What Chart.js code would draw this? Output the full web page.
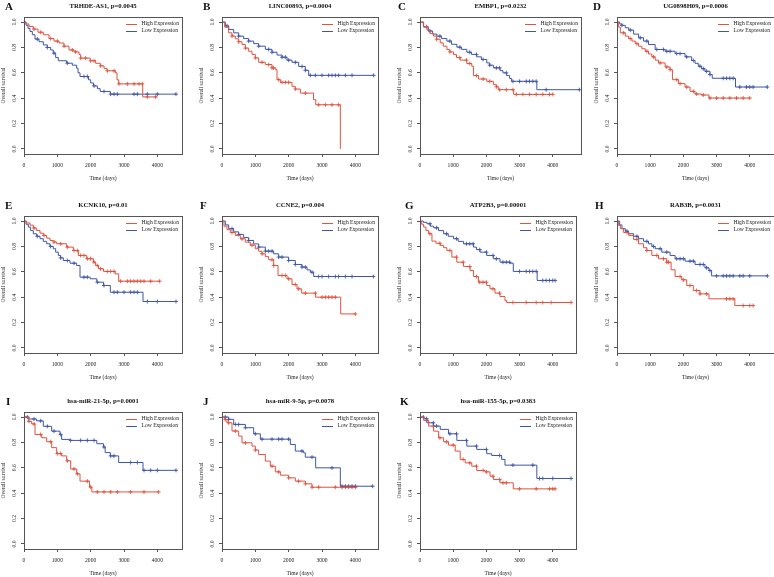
<!DOCTYPE html>
<html>
<head>
<meta charset="utf-8">
<script src="https://cdn.jsdelivr.net/npm/chart.js@4.4.0/dist/chart.umd.min.js"></script>
<style>
  body { margin: 0; background: #fff; width: 774px; height: 577px; position: relative; overflow: hidden; }
  canvas { position: absolute; }
</style>
</head>
<body>
<script>
"use strict";

// panel labels and titles
const panelLetters = ["A", "B", "C", "D", "E", "F", "G", "H", "I", "J", "K"];
const panelTitles = [
  "TRHDE-AS1, p=0.0045", "LINC00893, p=0.0004", "EMBP1, p=0.0232", "UG0898H09, p=0.0006",
  "KCNK10, p=0.01", "CCNE2, p=0.004", "ATP2B3, p=0.00001", "RAB3B, p=0.0031",
  "hsa-miR-21-5p, p=0.0001", "hsa-miR-9-5p, p=0.0078", "hsa-miR-155-5p, p=0.0383"
];
const seriesNames = ["High Expression", "Low Expression"];
const xTicks = [0, 1000, 2000, 3000, 4000];
const yTicks = [0, 0.2, 0.4, 0.6, 0.8, 1.0];
const xMaxes = [4740, 4680, 4850, 4730, 4740, 4680, 4700, 4730, 4740, 4680, 4700];

// Kaplan-Meier steps [time, survival]
const aHigh = [[0,1],[60,0.985],[150,0.965],[280,0.945],[420,0.92],[580,0.9],[750,0.87],[900,0.85],[1050,0.835],[1200,0.81],[1350,0.78],[1500,0.765],[1650,0.745],[1700,0.716],[1985,0.695],[2150,0.675],[2290,0.655],[2400,0.635],[2490,0.616],[2740,0.6],[2790,0.545],[2840,0.513],[3560,0.41],[3990,0.41]];
const aLow = [[0,1],[60,0.975],[120,0.95],[180,0.926],[250,0.9],[330,0.866],[450,0.845],[580,0.82],[700,0.8],[800,0.78],[880,0.755],[950,0.72],[1030,0.695],[1280,0.676],[1450,0.66],[1580,0.637],[1620,0.6],[1680,0.571],[1935,0.545],[2000,0.52],[2085,0.497],[2200,0.475],[2285,0.453],[2590,0.432],[4560,0.432]];
const bHigh = [[0,1],[80,0.96],[200,0.915],[300,0.89],[400,0.868],[500,0.845],[600,0.823],[700,0.795],[800,0.77],[900,0.745],[1000,0.718],[1100,0.683],[1300,0.665],[1500,0.639],[1600,0.625],[1650,0.546],[1750,0.525],[2100,0.493],[2200,0.472],[2350,0.44],[2745,0.388],[2813,0.348],[3550,0]];
const bLow = [[0,1],[100,0.97],[200,0.942],[350,0.915],[500,0.889],[650,0.87],[800,0.85],[950,0.83],[1100,0.81],[1300,0.785],[1500,0.762],[1650,0.74],[1800,0.723],[1950,0.7],[2100,0.683],[2300,0.65],[2500,0.62],[2600,0.58],[4560,0.58]];
const cHigh = [[0,1],[100,0.965],[210,0.937],[300,0.91],[410,0.889],[500,0.865],[610,0.836],[700,0.81],[810,0.784],[900,0.765],[1010,0.744],[1100,0.72],[1210,0.7],[1410,0.673],[1560,0.652],[1610,0.578],[1760,0.551],[2010,0.533],[2210,0.507],[2300,0.49],[2360,0.467],[2820,0.43],[4000,0.43]];
const cLow = [[0,1],[110,0.96],[250,0.93],[380,0.905],[510,0.889],[650,0.87],[810,0.85],[950,0.825],[1110,0.802],[1250,0.785],[1410,0.762],[1550,0.745],[1710,0.726],[1850,0.705],[2010,0.678],[2100,0.66],[2210,0.639],[2410,0.617],[2500,0.6],[2610,0.578],[2700,0.555],[2760,0.533],[3520,0.467],[4800,0.467]];
const dHigh = [[0,1],[50,0.96],[100,0.915],[250,0.889],[350,0.87],[450,0.85],[550,0.83],[650,0.81],[750,0.79],[850,0.77],[950,0.748],[1050,0.726],[1150,0.7],[1250,0.678],[1450,0.646],[1600,0.625],[1670,0.546],[1850,0.515],[2050,0.488],[2200,0.454],[2350,0.433],[2550,0.425],[2770,0.401],[4000,0.401]];
const dLow = [[0,1],[80,0.985],[150,0.974],[250,0.955],[350,0.937],[500,0.905],[650,0.876],[800,0.85],[950,0.823],[1150,0.784],[1450,0.77],[1750,0.752],[2050,0.726],[2250,0.697],[2350,0.675],[2450,0.652],[2550,0.632],[2650,0.612],[2800,0.586],[2870,0.557],[3570,0.488],[4530,0.488]];
const eHigh = [[0,1],[80,0.985],[180,0.968],[280,0.945],[380,0.926],[480,0.905],[580,0.887],[680,0.865],[780,0.847],[880,0.835],[980,0.821],[1280,0.795],[1480,0.768],[1630,0.729],[1880,0.703],[2085,0.676],[2150,0.65],[2235,0.624],[2385,0.603],[2735,0.584],[2840,0.526],[4070,0.526]];
const eLow = [[0,1],[60,0.975],[130,0.953],[200,0.925],[280,0.9],[380,0.88],[480,0.861],[580,0.84],[680,0.821],[780,0.8],[880,0.782],[950,0.755],[1030,0.729],[1100,0.71],[1180,0.689],[1380,0.668],[1580,0.65],[1680,0.558],[1985,0.545],[2185,0.518],[2385,0.492],[2590,0.439],[3570,0.366],[4560,0.366]];
const fHigh = [[0,1],[60,0.96],[150,0.932],[250,0.91],[400,0.887],[550,0.86],[700,0.834],[850,0.81],[1000,0.782],[1100,0.762],[1200,0.742],[1300,0.72],[1400,0.695],[1550,0.65],[1680,0.571],[1950,0.545],[2100,0.5],[2250,0.466],[2390,0.432],[2810,0.4],[3560,0.268],[4000,0.268]];
const fLow = [[0,1],[100,0.97],[200,0.94],[350,0.915],[500,0.895],[650,0.87],[800,0.847],[950,0.82],[1100,0.795],[1300,0.763],[1550,0.742],[1700,0.716],[2000,0.689],[2200,0.658],[2400,0.637],[2550,0.615],[2650,0.597],[2750,0.563],[4540,0.563]];
const gHigh = [[0,1],[50,0.975],[110,0.953],[180,0.925],[260,0.9],[360,0.842],[480,0.825],[610,0.808],[710,0.79],[810,0.768],[960,0.716],[1110,0.676],[1310,0.642],[1510,0.61],[1610,0.563],[1760,0.518],[2010,0.492],[2110,0.466],[2260,0.432],[2410,0.405],[2560,0.374],[2610,0.358],[4550,0.358]];
const gLow = [[0,1],[100,0.99],[210,0.979],[310,0.96],[410,0.947],[560,0.925],[710,0.9],[850,0.88],[1010,0.861],[1150,0.84],[1310,0.821],[1610,0.795],[1700,0.775],[1810,0.755],[2010,0.729],[2210,0.703],[2410,0.676],[2710,0.668],[2810,0.603],[3530,0.532],[4070,0.532]];
const hHigh = [[0,1],[50,0.965],[100,0.94],[200,0.91],[350,0.887],[500,0.855],[650,0.821],[800,0.79],[900,0.768],[1050,0.729],[1250,0.703],[1500,0.676],[1630,0.616],[1750,0.563],[1950,0.537],[2100,0.492],[2300,0.453],[2500,0.426],[2770,0.387],[3550,0.334],[4100,0.334]];
const hLow = [[0,1],[80,0.97],[150,0.94],[250,0.92],[350,0.9],[500,0.88],[650,0.861],[800,0.84],[950,0.821],[1050,0.8],[1150,0.782],[1350,0.755],[1600,0.729],[1750,0.703],[2050,0.684],[2350,0.658],[2650,0.632],[2770,0.61],[2850,0.568],[4530,0.568]];
const iHigh = [[0,1],[130,0.966],[230,0.946],[330,0.863],[530,0.837],[680,0.806],[830,0.759],[980,0.712],[1130,0.694],[1280,0.655],[1400,0.591],[1580,0.552],[1680,0.495],[1965,0.448],[2035,0.41],[4040,0.41]];
const iLow = [[0,1],[150,0.985],[380,0.97],[580,0.927],[830,0.889],[1080,0.863],[1130,0.824],[1380,0.816],[2185,0.79],[2385,0.764],[2435,0.72],[2590,0.694],[2840,0.642],[3570,0.58],[4560,0.58]];
const jHigh = [[0,1],[80,0.98],[150,0.955],[300,0.89],[500,0.85],[600,0.797],[900,0.771],[1000,0.74],[1100,0.705],[1300,0.653],[1450,0.613],[1600,0.568],[1750,0.542],[2000,0.521],[2200,0.495],[2500,0.474],[2700,0.447],[4040,0.447]];
const jLow = [[0,1],[200,0.982],[350,0.942],[700,0.916],[950,0.868],[1150,0.826],[2050,0.784],[2200,0.732],[2450,0.718],[2500,0.684],[2810,0.6],[3550,0.455],[4520,0.455]];
const kHigh = [[0,1],[110,0.974],[260,0.929],[410,0.889],[560,0.837],[710,0.805],[860,0.779],[1060,0.732],[1210,0.666],[1360,0.639],[1560,0.613],[1710,0.579],[1960,0.568],[2110,0.534],[2210,0.508],[2410,0.482],[2810,0.434],[4070,0.434]];
const kLow = [[0,1],[110,0.987],[210,0.955],[410,0.929],[610,0.903],[860,0.868],[1110,0.816],[1410,0.771],[1710,0.745],[2010,0.711],[2160,0.697],[2460,0.666],[2560,0.621],[3520,0.516],[4550,0.516]];

// censoring times (days)
const aHighCens = [300,500,800,1000,1200,1450,1550,1700,1850,2000,2100,2300,2500,2700,2850,3100,3300,3450,3550,3700,3950];
const aLowCens = [400,700,900,1300,1800,1900,2100,2400,2600,2700,2800,3300,3400,3700,4000,4560];
const bHighCens = [300,500,700,1000,1200,1400,1500,1550,1700,1800,1900,2000,2200,2500,2900,3100,3300,3500];
const bLowCens = [150,500,800,1100,1400,1500,1800,1900,2000,2200,2400,2500,2650,2800,3000,3200,3300,3400,3500,3700,3900,4550];
const cHighCens = [200,500,900,1200,1400,1500,1700,1900,2100,2300,2400,2600,2800,2900,3100,3300,3500,3700,3900,4000];
const cLowCens = [300,600,900,1200,1500,1700,1900,2100,2300,2400,2600,2800,3000,3200,3300,3400,3500,3800,4800];
const dHighCens = [200,400,600,900,1100,1300,1500,1600,1800,1900,2100,2300,2400,2600,2800,3000,3200,3400,3600,3800,4000];
const dLowCens = [150,400,700,900,1200,1400,1500,1600,1800,1900,2100,2300,2500,2600,2700,2800,3200,3300,3400,3500,3700,3900,4000,4100,4530];
const eHighCens = [300,600,900,1100,1300,1500,1600,1700,1800,1900,2000,2100,2200,2300,2500,2600,2700,2900,3100,3200,3300,3400,3500,3600,3800,4070];
const eLowCens = [400,800,1100,1300,1500,1800,1900,2200,2400,2700,2800,3000,3200,3300,3400,3700,4000,4560];
const fHighCens = [300,600,900,1200,1500,1550,1800,1900,2000,2200,2300,2500,2800,3000,3100,3200,3300,3400,4000];
const fLowCens = [300,500,800,1100,1300,1400,1500,1700,1800,2000,2200,2400,2500,2700,2900,3000,3200,3400,3500,3700,3900,4540];
const gHighCens = [300,600,900,1100,1300,1500,1700,1800,1900,2000,2200,2400,2800,3200,3500,3700,3950,4550];
const gLowCens = [300,500,800,1100,1400,1500,1600,1800,2000,2200,2300,2500,2600,2700,3000,3200,3300,3400,3500,3700,3800,3900,4000,4070];
const hHighCens = [300,600,900,1200,1400,1500,1550,1900,2000,2200,2400,2500,2700,3300,3400,3500,3800,4000,4100];
const hLowCens = [300,600,900,1100,1300,1500,1800,1900,2000,2200,2300,2500,2600,2700,2800,3000,3200,3300,3400,3500,3700,3800,4000,4530];
const iHighCens = [150,300,500,800,1000,1100,1300,1500,1600,1900,2000,2200,2400,2600,2800,3200,3600,4040];
const iLowCens = [100,300,500,700,900,1100,1400,1700,1900,2100,2400,2600,2700,3200,3400,3600,3800,4000,4560];
const jHighCens = [100,200,400,700,1000,1500,1700,2000,2300,2500,2700,2900,3400,3600,3700,3800,3900,4000];
const jLowCens = [100,200,400,500,700,1000,1200,1500,1700,1800,2000,2400,2700,3300,3600,3700,3800,3900,4000,4520];
const kHighCens = [200,400,600,800,1000,1300,1500,1700,1900,2000,2200,2400,2500,2600,3000,3500,3900,4000,4070];
const kLowCens = [100,200,400,500,900,1100,1400,1700,2000,2400,2800,3400,3600,3700,4000,4550];

const panels = [
  [aHigh, aLow, aHighCens, aLowCens], [bHigh, bLow, bHighCens, bLowCens],
  [cHigh, cLow, cHighCens, cLowCens], [dHigh, dLow, dHighCens, dLowCens],
  [eHigh, eLow, eHighCens, eLowCens], [fHigh, fLow, fHighCens, fLowCens],
  [gHigh, gLow, gHighCens, gLowCens], [hHigh, hLow, hHighCens, hLowCens],
  [iHigh, iLow, iHighCens, iLowCens], [jHigh, jLow, jHighCens, jLowCens],
  [kHigh, kLow, kHighCens, kLowCens]
];

// layout
const colLeft = [24, 222, 420, 617];
const rowTop = [17, 216, 412];
const letterDx = [-19, -19, -22, -24, -19, -22, -15, -22, -18, -19, -20];
const pxPer1000 = 33.25;
const boxH = 137;
const padL = 26, padR = 14, padT = 18, padB = 32;
const red = "#E0533E";
const blue = "#3E56A6";
const serif = '"Liberation Serif", "Times New Roman", serif';

// survival at time t on a step curve
function survAt(curve, t) {
  let s = 1;
  for (const [time, val] of curve) {
    if (time <= t) s = val;
  }
  return s;
}

const framePlugin = {
  id: "frame",
  afterDraw(chart, args, opts) {
    const { ctx, chartArea: a } = chart;
    ctx.save();
    ctx.strokeStyle = "#555";
    ctx.lineWidth = 1;
    ctx.strokeRect(Math.round(a.left) + 0.5, Math.round(a.top) + 0.5,
      Math.round(a.right - a.left), Math.round(a.bottom - a.top));

    ctx.fillStyle = "#111";
    ctx.textBaseline = "middle";
    ctx.textAlign = "center";
    ctx.font = "bold 6.7px " + serif;
    ctx.fillText(opts.title, (a.left + a.right) / 2, a.top - 11);
    ctx.textAlign = "left";
    ctx.font = "bold 11px " + serif;
    ctx.fillText(opts.letter, a.left + opts.letterDx, a.top - 10);

    // legend, top right
    const lx = a.right - 56;
    [red, blue].forEach((col, i) => {
      const y = a.top + 7 + i * 6.5;
      ctx.strokeStyle = col;
      ctx.beginPath();
      ctx.moveTo(lx, Math.round(y) + 0.5);
      ctx.lineTo(lx + 11, Math.round(y) + 0.5);
      ctx.stroke();
      ctx.fillStyle = "#222";
      ctx.font = "5.6px " + serif;
      ctx.fillText(seriesNames[i], lx + 15.5, y);
    });
    ctx.restore();
  }
};

function lineSet(curve, color) {
  return {
    data: curve.map(p => ({ x: p[0], y: p[1] })),
    borderColor: color,
    borderWidth: 1,
    stepped: "before",
    pointRadius: 0,
    fill: false
  };
}

function censSet(curve, times, color) {
  return {
    data: times.map(t => ({ x: t, y: survAt(curve, t) })),
    showLine: false,
    pointStyle: "cross",
    pointRadius: 2,
    borderColor: color,
    borderWidth: 0.9
  };
}

const tickFont = { family: serif, size: 5.6 };

panels.forEach((p, idx) => {
  const [high, low, highCens, lowCens] = p;
  const col = idx % 4, row = Math.floor(idx / 4);
  const xMax = xMaxes[idx];
  const boxW = xMax / 1000 * pxPer1000;

  const canvas = document.createElement("canvas");
  const w = Math.round(padL + boxW + padR);
  const h = padT + boxH + padB;
  canvas.width = w;
  canvas.height = h;
  canvas.style.width = w + "px";
  canvas.style.height = h + "px";
  canvas.style.left = (colLeft[col] - padL) + "px";
  canvas.style.top = (rowTop[row] - padT) + "px";
  document.body.appendChild(canvas);

  new Chart(canvas, {
    type: "line",
    data: {
      datasets: [
        lineSet(high, red), lineSet(low, blue),
        censSet(high, highCens, red), censSet(low, lowCens, blue)
      ]
    },
    plugins: [framePlugin],
    options: {
      responsive: false,
      animation: false,
      events: [],
      layout: { padding: { left: 0, right: padR, top: padT, bottom: 0 } },
      plugins: {
        legend: { display: false },
        tooltip: { enabled: false },
        frame: { title: panelTitles[idx], letter: panelLetters[idx], letterDx: letterDx[idx] }
      },
      scales: {
        x: {
          type: "linear",
          min: 0,
          max: xMax,
          afterBuildTicks: s => { s.ticks = xTicks.map(v => ({ value: v })); },
          afterFit: s => { s.height = padB; },
          grid: { drawOnChartArea: false, drawTicks: true, tickLength: 3, color: "#555" },
          border: { display: true, color: "#555" },
          ticks: {
            font: tickFont, color: "#222", padding: 5, maxRotation: 0, autoSkip: false,
            callback: v => String(v)
          },
          title: {
            display: true, text: "Time (days)", color: "#222",
            font: tickFont, padding: { top: 0, bottom: 3.7 }
          }
        },
        y: {
          type: "linear",
          min: -0.04,
          max: 1.04,
          afterBuildTicks: s => { s.ticks = yTicks.map(v => ({ value: v })); },
          afterFit: s => { s.width = padL; },
          grid: { drawOnChartArea: false, drawTicks: true, tickLength: 3, color: "#555" },
          border: { display: true, color: "#555" },
          ticks: {
            font: tickFont, color: "#222", padding: 2.6,
            minRotation: 90, maxRotation: 90, crossAlign: "center",
            callback: v => v.toFixed(1)
          },
          title: {
            display: true, text: "Overall survival", color: "#222",
            font: tickFont, padding: { top: 1.7, bottom: 0 }
          }
        }
      }
    }
  });
});
</script>
</body>
</html>
